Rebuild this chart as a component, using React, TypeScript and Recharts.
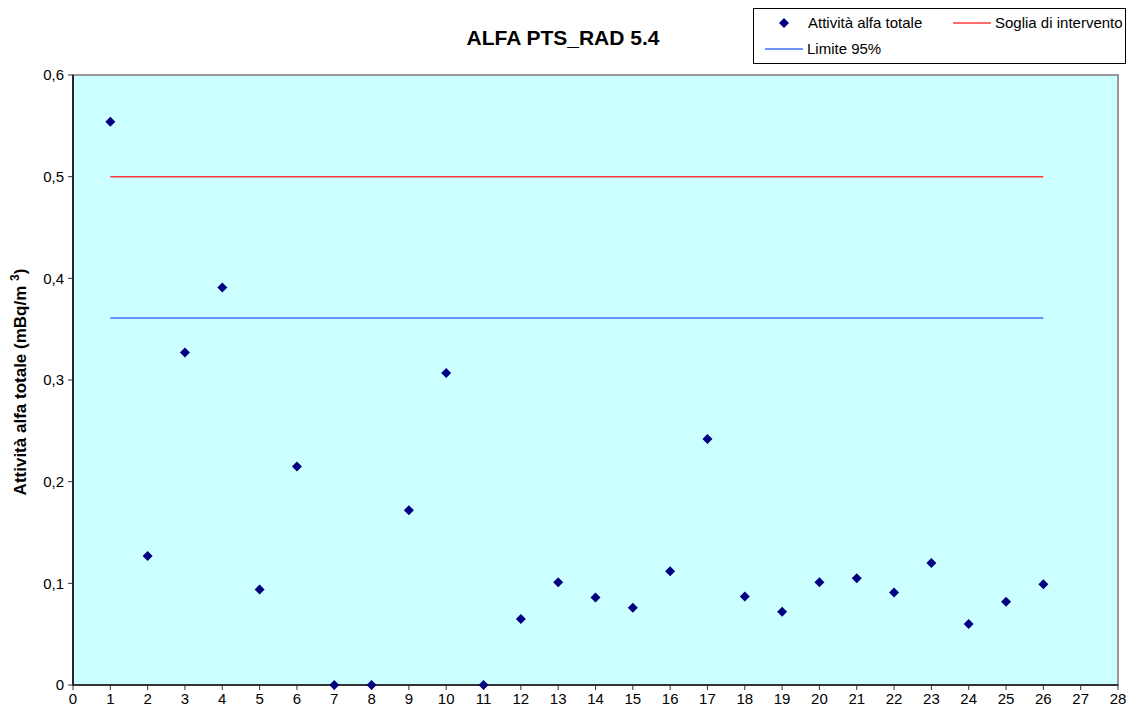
import React from "react";
import {
  ComposedChart,
  Scatter,
  Line,
  XAxis,
  YAxis,
  ReferenceArea,
} from "recharts";

const campioni = [1, 2, 3, 4, 5, 6, 7, 8, 9, 10, 11, 12, 13, 14, 15, 16, 17, 18, 19, 20, 21, 22, 23, 24, 25, 26];
const attivita = [0.554, 0.127, 0.327, 0.391, 0.094, 0.215, 0, 0, 0.172, 0.307, 0, 0.065, 0.101, 0.086, 0.076, 0.112, 0.242, 0.087, 0.072, 0.101, 0.105, 0.091, 0.12, 0.06, 0.082, 0.099];
const soglia = 0.5;
const limite95 = 0.361;
const xTicks = [0, 1, 2, 3, 4, 5, 6, 7, 8, 9, 10, 11, 12, 13, 14, 15, 16, 17, 18, 19, 20, 21, 22, 23, 24, 25, 26, 27, 28];
const yTicks = [0, 0.1, 0.2, 0.3, 0.4, 0.5, 0.6];

const data = campioni.map((c, i) => ({
  x: c,
  attivita: attivita[i],
  soglia,
  limite: limite95,
}));

const FONT = "'Liberation Sans', Arial, sans-serif";
const RED = "#FF3B3B";
const BLUE = "#3F70FF";

const Diamond = (props: any) => {
  const { cx, cy } = props;
  if (cx == null || cy == null) return null;
  const r = 5;
  return (
    <polygon
      points={`${cx},${cy - r} ${cx + r},${cy} ${cx},${cy + r} ${cx - r},${cy}`}
      fill="#000080"
      stroke="none"
    />
  );
};

const YLabel = (props: any) => {
  const vb = props.viewBox || {};
  const cy = vb.y + vb.height / 2 + 2;
  const x = 26;
  return (
    <text
      x={x}
      y={cy}
      transform={`rotate(-90, ${x}, ${cy})`}
      textAnchor="middle"
      fontFamily={FONT}
      fontWeight="bold"
      fontSize={17}
      fill="#000"
    >
      Attività alfa totale (mBq/m <tspan dy={-7} fontSize={12}>3</tspan>
      <tspan dy={7}>)</tspan>
    </text>
  );
};

export default function App() {
  return (
    <div style={{ position: "absolute", left: 0, top: 0, width: 1128, height: 712, background: "#fff" }}>
      <div
        style={{
          position: "absolute",
          left: 413,
          top: 26,
          width: 300,
          textAlign: "center",
          fontFamily: FONT,
          fontWeight: "bold",
          fontSize: 21,
          color: "#000",
        }}
      >
        ALFA PTS_RAD 5.4
      </div>
      <div
        style={{
          position: "absolute",
          left: 753,
          top: 8,
          width: 373,
          height: 56,
          border: "1px solid #000",
          boxSizing: "border-box",
          fontFamily: FONT,
          fontSize: 15,
          color: "#000",
          background: "#fff",
        }}
      >
        <div style={{ position: "absolute", left: 24, top: 5, display: "flex", alignItems: "center", lineHeight: "18px" }}>
          <svg width={12} height={12} style={{ marginRight: 18 }}>
            <polygon points="6,1 11,6 6,11 1,6" fill="#000080" />
          </svg>
          <span>Attività alfa totale</span>
        </div>
        <div style={{ position: "absolute", left: 199, top: 5, display: "flex", alignItems: "center", lineHeight: "18px" }}>
          <svg width={38} height={12} style={{ marginRight: 4 }}>
            <line x1={0} y1={6} x2={38} y2={6} stroke={RED} strokeWidth={1.5} />
          </svg>
          <span>Soglia di intervento</span>
        </div>
        <div style={{ position: "absolute", left: 11, top: 31, display: "flex", alignItems: "center", lineHeight: "18px" }}>
          <svg width={38} height={12} style={{ marginRight: 4 }}>
            <line x1={0} y1={6} x2={38} y2={6} stroke={BLUE} strokeWidth={1.5} />
          </svg>
          <span>Limite 95%</span>
        </div>
      </div>
      <ComposedChart
        width={1128}
        height={712}
        data={data}
        margin={{ top: 75, right: 10, left: 0, bottom: 0 }}
        style={{ position: "absolute", left: 0, top: 0 }}
      >
        <ReferenceArea
          x1={0}
          x2={28}
          y1={0}
          y2={0.6}
          fill="#CCFFFF"
          fillOpacity={1}
          stroke="#999999"
          strokeWidth={2}
          ifOverflow="visible"
        />
        <XAxis
          dataKey="x"
          type="number"
          domain={[0, 28]}
          ticks={xTicks}
          interval={0}
          height={27}
          tickSize={5}
          axisLine={{ stroke: "#333", strokeWidth: 2 }}
          tickLine={{ stroke: "#333" }}
          tick={{ fontFamily: FONT, fontSize: 15, fill: "#000" }}
          tickMargin={3}
        />
        <YAxis
          type="number"
          domain={[0, 0.6]}
          ticks={yTicks}
          interval={0}
          width={73}
          tickSize={5}
          axisLine={{ stroke: "#000", strokeWidth: 1.5 }}
          tickLine={{ stroke: "#333" }}
          tick={{ fontFamily: FONT, fontSize: 15, fill: "#000" }}
          tickFormatter={(v: number) => (v === 0 ? "0" : v.toFixed(1).replace(".", ","))}
          tickMargin={4}
          label={<YLabel />}
        />
        <Line
          dataKey="soglia"
          stroke={RED}
          strokeWidth={1.5}
          dot={false}
          isAnimationActive={false}
          legendType="none"
        />
        <Line
          dataKey="limite"
          stroke={BLUE}
          strokeWidth={1.5}
          dot={false}
          isAnimationActive={false}
          legendType="none"
        />
        <Scatter
          dataKey="attivita"
          shape={<Diamond />}
          isAnimationActive={false}
        />
      </ComposedChart>
    </div>
  );
}
